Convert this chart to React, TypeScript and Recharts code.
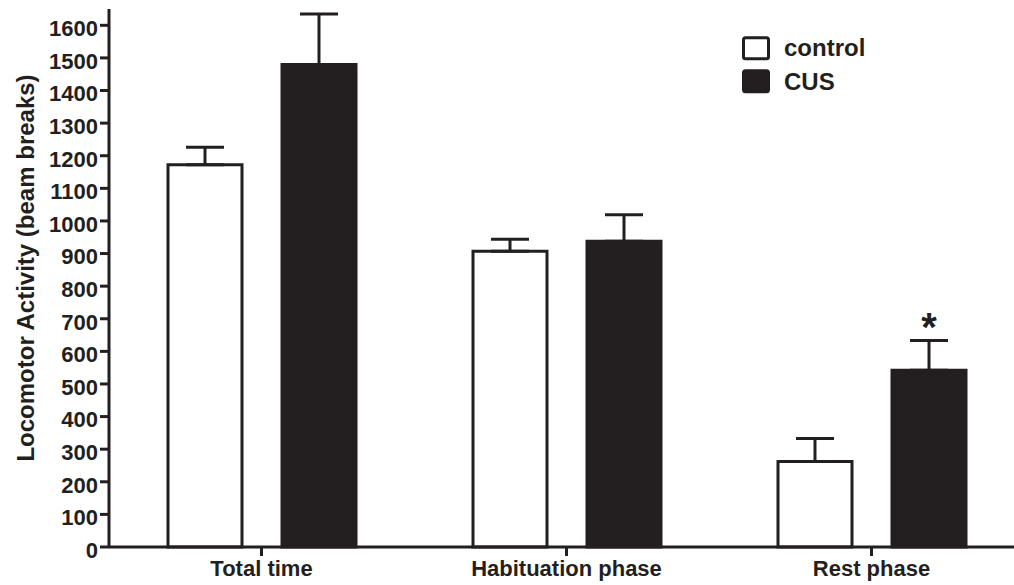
import { BarChart, Bar, XAxis, YAxis, ErrorBar, LabelList, Legend } from 'recharts';

const INK = '#231f20';
const FONT = '"Liberation Sans", Arial, Helvetica, sans-serif';

const phases = ['Total time', 'Habituation phase', 'Rest phase'];
const controlMean = [1172, 907, 262];
const controlSem = [54, 37, 71];
const cusMean = [1480, 938, 542];
const cusSem = [155, 81, 91];
const significance = ['', '', '*'];
const groups = ['control', 'CUS'];
const yTicks = [0, 100, 200, 300, 400, 500, 600, 700, 800, 900, 1000, 1100, 1200, 1300, 1400, 1500, 1600];

const data = phases.map((phase, i) => ({
  phase,
  control: controlMean[i],
  controlErr: [0, controlSem[i]],
  CUS: cusMean[i],
  cusErr: [0, cusSem[i]],
  sig: significance[i],
}));

const YTitle = ({ viewBox }: any) => {
  const x = viewBox.x + 25;
  const y = viewBox.y + viewBox.height / 2 - 10;
  return (
    <text
      x={x}
      y={y}
      dy="0.355em"
      transform={`rotate(-90 ${x} ${y})`}
      textAnchor="middle"
      fill={INK}
      style={{ fontFamily: FONT, fontWeight: 700, fontSize: 24 }}
    >
      Locomotor Activity (beam breaks)
    </text>
  );
};

const LegendBox = ({ payload }: any) => {
  const items = groups
    .map((g) => (payload || []).find((p: any) => p.value === g))
    .filter(Boolean);
  return (
    <svg width={160} height={72}>
      {items.map((item: any, i: number) => (
        <g key={item.value}>
          <rect
            x={5.5}
            y={9.8 + i * 33}
            width={25}
            height={21}
            rx={2}
            fill={item.value === 'control' ? '#fff' : INK}
            stroke={INK}
            strokeWidth={3}
          />
          <text
            x={46}
            y={28.3 + i * 34}
            fill={INK}
            style={{ fontFamily: FONT, fontWeight: 700, fontSize: 24 }}
          >
            {item.value}
          </text>
        </g>
      ))}
    </svg>
  );
};

export default function App() {
  return (
    <div style={{ position: 'fixed', left: 0, top: 0, width: 1014, height: 585, overflow: 'hidden', background: '#fff' }}>
      <BarChart
        width={1024}
        height={585}
        data={data}
        margin={{ top: 9, right: 0, bottom: 0, left: 0 }}
        barSize={74}
        barGap={40}
      >
        <XAxis
          dataKey="phase"
          height={38}
          axisLine={{ stroke: INK, strokeWidth: 3 }}
          tickLine={{ stroke: INK, strokeWidth: 3 }}
          tickSize={9}
          tickMargin={4}
          tick={{ fill: INK, fontFamily: FONT, fontWeight: 700, fontSize: 22 }}
        />
        <YAxis
          width={109}
          domain={[0, 1650]}
          ticks={yTicks}
          interval={0}
          axisLine={{ stroke: INK, strokeWidth: 3 }}
          tickLine={{ stroke: INK, strokeWidth: 3 }}
          tickSize={9}
          tickMargin={2}
          tick={{ fill: INK, fontFamily: FONT, fontWeight: 700, fontSize: 22, dy: 3 }}
          label={<YTitle />}
        />
        <Legend
          layout="horizontal"
          verticalAlign="middle"
          align="center"
          content={<LegendBox />}
          wrapperStyle={{ position: 'absolute', left: 738, top: 28, width: 160 }}
        />
        <Bar dataKey="control" fill="#fff" stroke={INK} strokeWidth={3} isAnimationActive={false}>
          <ErrorBar dataKey="controlErr" width={19} stroke={INK} strokeWidth={3} />
        </Bar>
        <Bar dataKey="CUS" fill={INK} stroke={INK} strokeWidth={3} isAnimationActive={false}>
          <ErrorBar dataKey="cusErr" width={19} stroke={INK} strokeWidth={3} />
          <LabelList
            dataKey="sig"
            position="top"
            offset={29}
            fill={INK}
            style={{ fontFamily: FONT, fontWeight: 700, fontSize: 40 }}
          />
        </Bar>
      </BarChart>
    </div>
  );
}
